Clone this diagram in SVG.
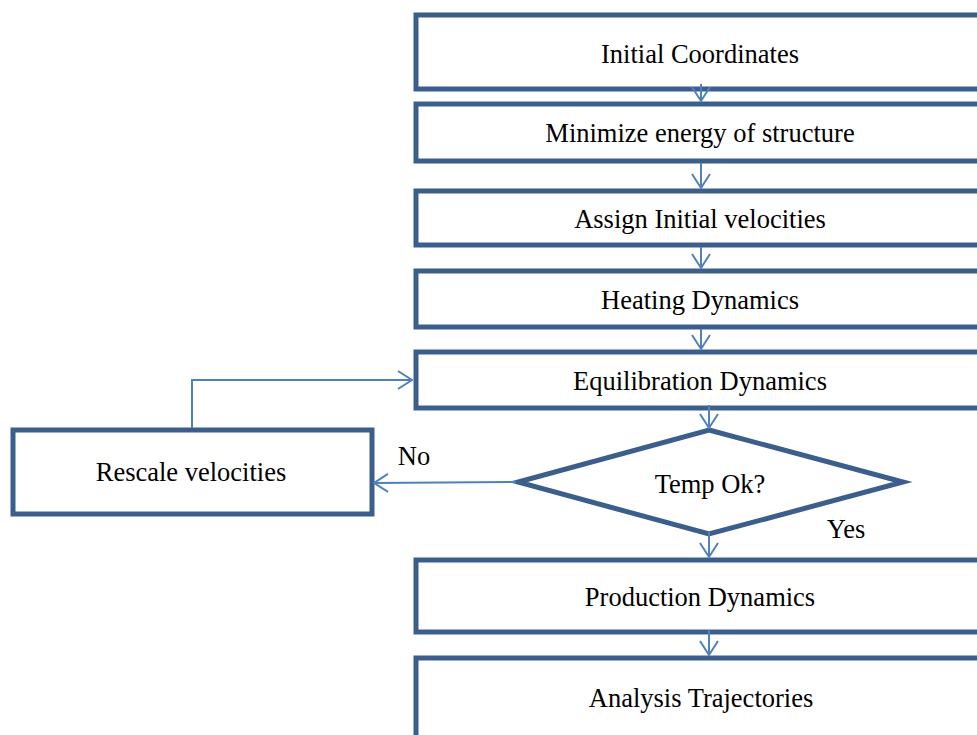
<svg xmlns="http://www.w3.org/2000/svg" width="977" height="735" viewBox="0 0 977 735">
<defs>
<style>
.box{fill:#fff;stroke:#3B5E8C;stroke-width:5}
.lbl{font-family:"Liberation Serif","Times New Roman",serif;font-size:26.5px;fill:#000;text-anchor:middle}
.con{fill:none;stroke:#4F81BD;stroke-width:2}
</style>
<marker id="ah" markerUnits="userSpaceOnUse" markerWidth="22" markerHeight="22" viewBox="0 0 22 22" refX="16" refY="11" orient="auto">
<path d="M2,2 L16,11 L2,20" fill="none" stroke="#4F81BD" stroke-width="2"/>
</marker>
</defs>
<rect width="977" height="735" fill="#fff"/>
<g id="n1"><rect class="box" x="416" y="15" width="580" height="74"/><text class="lbl" x="700" y="63">Initial Coordinates</text></g>
<g id="n2"><rect class="box" x="416" y="104" width="580" height="57"/><text class="lbl" x="700" y="142">Minimize energy of structure</text></g>
<g id="n3"><rect class="box" x="416" y="191" width="580" height="54"/><text class="lbl" x="700" y="228">Assign Initial velocities</text></g>
<g id="n4"><rect class="box" x="416" y="271" width="580" height="56"/><text class="lbl" x="700" y="309">Heating Dynamics</text></g>
<g id="n5"><rect class="box" x="416" y="352" width="580" height="56"/><text class="lbl" x="700" y="390">Equilibration Dynamics</text></g>
<g id="n6"><polygon class="box" points="709,430 903,482 709,534 518,482"/><text class="lbl" x="710" y="493">Temp Ok?</text></g>
<g id="n7"><rect class="box" x="416" y="560" width="580" height="72"/><text class="lbl" x="700" y="606">Production Dynamics</text></g>
<g id="n8"><rect class="box" x="416" y="658" width="580" height="100"/><text class="lbl" x="701" y="707">Analysis Trajectories</text></g>
<g id="n9"><rect class="box" x="13" y="430" width="359" height="84"/><text class="lbl" x="191" y="481">Rescale velocities</text></g>
<g id="connectors">
<path class="con" d="M701,84 V101" marker-end="url(#ah)"/>
<path class="con" d="M701,163 V188" marker-end="url(#ah)"/>
<path class="con" d="M701,247 V268" marker-end="url(#ah)"/>
<path class="con" d="M701,329 V349" marker-end="url(#ah)"/>
<path class="con" d="M709,405 V428" marker-end="url(#ah)"/>
<path class="con" d="M709,532 V557" marker-end="url(#ah)"/>
<path class="con" d="M709,630 V655" marker-end="url(#ah)"/>
<path class="con" d="M516,482 L374,483" marker-end="url(#ah)"/>
<path class="con" d="M192,428 V380 H412" marker-end="url(#ah)"/>
<text class="lbl" x="414" y="465">No</text>
<text class="lbl" x="846" y="538">Yes</text>
</g>
</svg>
